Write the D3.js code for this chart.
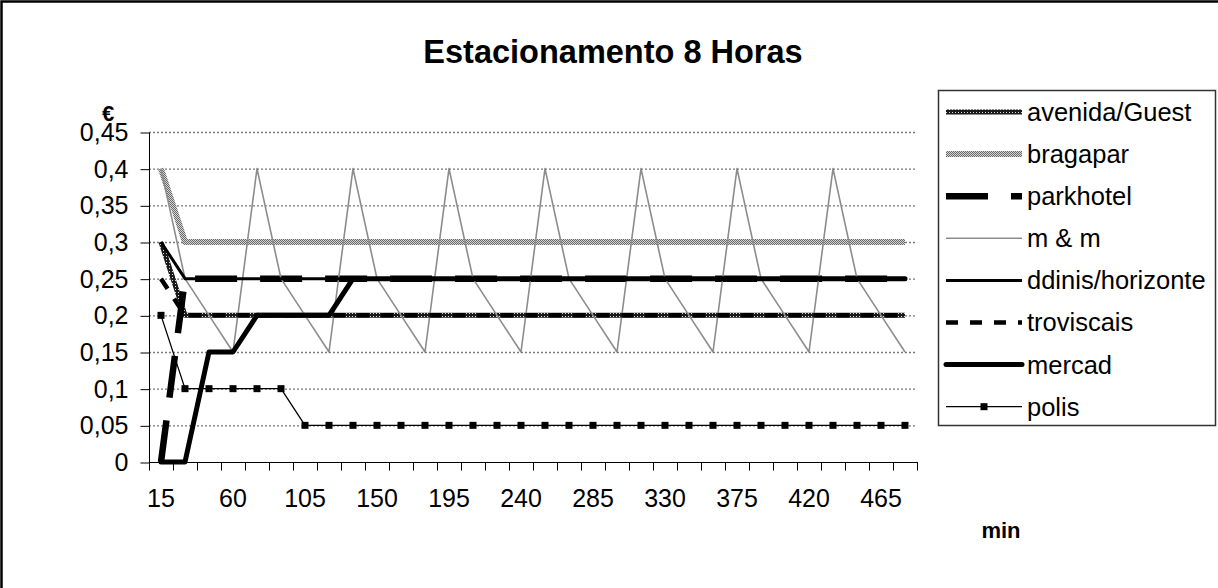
<!DOCTYPE html>
<html>
<head>
<meta charset="utf-8">
<script src="https://cdn.jsdelivr.net/npm/d3@7"></script>
<style>
  html, body { margin: 0; padding: 0; background: #fff; }
  svg { display: block; font-family: "Liberation Sans", Arial, sans-serif; }
</style>
</head>
<body>
<svg id="chart" width="1218" height="588"></svg>
<script>
// Parking price per 15-minute block, 8-hour stay
const minutes = [15, 30, 45, 60, 75, 90, 105, 120, 135, 150, 165, 180, 195, 210, 225, 240,
                 255, 270, 285, 300, 315, 330, 345, 360, 375, 390, 405, 420, 435, 450, 465, 480];
const xTickLabels = [15, 60, 105, 150, 195, 240, 285, 330, 375, 420, 465];
const yTicks = [0, 0.05, 0.1, 0.15, 0.2, 0.25, 0.3, 0.35, 0.4, 0.45];

const avenidaGuest = [0.3, 0.2, 0.2, 0.2, 0.2, 0.2, 0.2, 0.2, 0.2, 0.2, 0.2, 0.2, 0.2, 0.2, 0.2, 0.2,
                      0.2, 0.2, 0.2, 0.2, 0.2, 0.2, 0.2, 0.2, 0.2, 0.2, 0.2, 0.2, 0.2, 0.2, 0.2, 0.2];
const bragapar = [0.4, 0.3, 0.3, 0.3, 0.3, 0.3, 0.3, 0.3, 0.3, 0.3, 0.3, 0.3, 0.3, 0.3, 0.3, 0.3,
                  0.3, 0.3, 0.3, 0.3, 0.3, 0.3, 0.3, 0.3, 0.3, 0.3, 0.3, 0.3, 0.3, 0.3, 0.3, 0.3];
const parkhotel = [0, 0.25, 0.25, 0.25, 0.25, 0.25, 0.25, 0.25, 0.25, 0.25, 0.25, 0.25, 0.25, 0.25, 0.25, 0.25,
                   0.25, 0.25, 0.25, 0.25, 0.25, 0.25, 0.25, 0.25, 0.25, 0.25, 0.25, 0.25, 0.25, 0.25, 0.25, 0.25];
const mAndM = [0.4, 0.25, 0.2, 0.15, 0.4, 0.25, 0.2, 0.15, 0.4, 0.25, 0.2, 0.15, 0.4, 0.25, 0.2, 0.15,
               0.4, 0.25, 0.2, 0.15, 0.4, 0.25, 0.2, 0.15, 0.4, 0.25, 0.2, 0.15, 0.4, 0.25, 0.2, 0.15];
const ddinisHorizonte = [0.3, 0.25, 0.25, 0.25, 0.25, 0.25, 0.25, 0.25, 0.25, 0.25, 0.25, 0.25, 0.25, 0.25, 0.25, 0.25,
                         0.25, 0.25, 0.25, 0.25, 0.25, 0.25, 0.25, 0.25, 0.25, 0.25, 0.25, 0.25, 0.25, 0.25, 0.25, 0.25];
const troviscais = [0.25, 0.2, 0.2, 0.2, 0.2, 0.2, 0.2, 0.2, 0.2, 0.2, 0.2, 0.2, 0.2, 0.2, 0.2, 0.2,
                    0.2, 0.2, 0.2, 0.2, 0.2, 0.2, 0.2, 0.2, 0.2, 0.2, 0.2, 0.2, 0.2, 0.2, 0.2, 0.2];
const mercad = [0, 0, 0.15, 0.15, 0.2, 0.2, 0.2, 0.2, 0.25, 0.25, 0.25, 0.25, 0.25, 0.25, 0.25, 0.25,
                0.25, 0.25, 0.25, 0.25, 0.25, 0.25, 0.25, 0.25, 0.25, 0.25, 0.25, 0.25, 0.25, 0.25, 0.25, 0.25];
const polis = [0.2, 0.1, 0.1, 0.1, 0.1, 0.1, 0.05, 0.05, 0.05, 0.05, 0.05, 0.05, 0.05, 0.05, 0.05, 0.05,
               0.05, 0.05, 0.05, 0.05, 0.05, 0.05, 0.05, 0.05, 0.05, 0.05, 0.05, 0.05, 0.05, 0.05, 0.05, 0.05];

const seriesNames = ["avenida/Guest", "bragapar", "parkhotel", "m & m",
                     "ddinis/horizonte", "troviscais", "mercad", "polis"];

const svg = d3.select("#chart");

// Textured strokes
const defs = svg.append("defs");
const darkTex = defs.append("pattern").attr("id", "texDark")
  .attr("patternUnits", "userSpaceOnUse").attr("width", 3).attr("height", 3);
darkTex.append("rect").attr("width", 3).attr("height", 3).attr("fill", "#1a1a1a");
darkTex.append("rect").attr("x", 1).attr("y", 1).attr("width", 1).attr("height", 1).attr("fill", "#d8d8d8");
const lightTex = defs.append("pattern").attr("id", "texLight")
  .attr("patternUnits", "userSpaceOnUse").attr("width", 2).attr("height", 2);
lightTex.append("rect").attr("width", 2).attr("height", 2).attr("fill", "#d4d4d4");
lightTex.append("rect").attr("width", 1).attr("height", 1).attr("fill", "#6a6a6a");
lightTex.append("rect").attr("x", 1).attr("y", 1).attr("width", 1).attr("height", 1).attr("fill", "#6a6a6a");

const styles = [
  { values: avenidaGuest,    stroke: "url(#texDark)",  width: 5,   dash: null },
  { values: bragapar,        stroke: "url(#texLight)", width: 6,   dash: null },
  { values: parkhotel,       stroke: "#000",           width: 6.5, dash: "42,23" },
  { values: mAndM,           stroke: "#8c8c8c",        width: 1.6, dash: null },
  { values: ddinisHorizonte, stroke: "#000",           width: 3,   dash: null },
  { values: troviscais,      stroke: "#000",           width: 4.5, dash: "12,12" },
  { values: mercad,          stroke: "#000",           width: 5,   dash: null, cap: "round" },
  { values: polis,           stroke: "#000",           width: 1.3, dash: null, marker: true }
];

// Outer chart frame
svg.append("rect").attr("x", 1.5).attr("y", 1.5).attr("width", 1400).attr("height", 800)
  .attr("fill", "none").attr("stroke", "#000").attr("stroke-width", 2.5);

const plotLeft = 149, plotRight = 917, plotTop = 132, plotBottom = 462;

const x = d3.scaleBand().domain(minutes).range([plotLeft, plotRight]).padding(0);
const cx = d => x(d) + x.bandwidth() / 2;
const y = d3.scaleLinear().domain([0, 0.45]).range([plotBottom, plotTop]);

// Gridlines
svg.append("g").selectAll("line").data(yTicks.filter(v => v > 0)).join("line")
  .attr("x1", plotLeft).attr("x2", plotRight)
  .attr("y1", d => y(d) + 0.5).attr("y2", d => y(d) + 0.5)
  .attr("stroke", "#777").attr("stroke-width", 1.3).attr("stroke-dasharray", "2,2");

// Y axis
const fmt = v => String(+v.toFixed(2)).replace(".", ",");
const yAxis = svg.append("g").attr("transform", `translate(${plotLeft + 0.5},0.5)`)
  .call(d3.axisLeft(y).tickValues(yTicks).tickSize(9).tickPadding(12).tickFormat(fmt));
yAxis.select(".domain").attr("stroke", "#000").attr("d", `M-0,${plotTop}V${plotBottom}`);
yAxis.selectAll(".tick line").attr("stroke", "#000");
yAxis.selectAll(".tick text").attr("font-size", 25).attr("fill", "#000")
  .attr("font-family", "'Liberation Sans', Arial, sans-serif");

// X axis with ticks between categories
const xAxis = svg.append("g").attr("transform", `translate(0,${plotBottom + 0.5})`);
xAxis.append("line").attr("x1", plotLeft).attr("x2", plotRight + 1).attr("stroke", "#000");
const edges = minutes.map(m => x(m)).concat([plotRight]);
xAxis.selectAll("line.tk").data(edges).join("line").attr("class", "tk")
  .attr("x1", d => Math.round(d) + 0.5).attr("x2", d => Math.round(d) + 0.5)
  .attr("y1", 0).attr("y2", 8).attr("stroke", "#000");
xAxis.selectAll("text").data(xTickLabels).join("text")
  .attr("x", d => cx(d)).attr("y", 44).attr("text-anchor", "middle")
  .attr("font-size", 25).text(d => d);

// Series lines
const line = d3.line().x((d, i) => cx(minutes[i])).y(d => y(d));
const g = svg.append("g");
styles.forEach(s => {
  g.append("path").attr("d", line(s.values)).attr("fill", "none")
    .attr("stroke", s.stroke).attr("stroke-width", s.width)
    .attr("stroke-dasharray", s.dash)
    .attr("stroke-linejoin", "round")
    .attr("stroke-linecap", s.cap || "butt");
  if (s.marker) {
    g.selectAll(null).data(s.values).join("rect")
      .attr("x", (d, i) => cx(minutes[i]) - 3.5).attr("y", d => y(d) - 3.5)
      .attr("width", 7).attr("height", 7).attr("fill", "#000");
  }
});

// Title and axis titles
svg.append("text").attr("x", 613).attr("y", 63).attr("text-anchor", "middle")
  .attr("font-size", 32.5).attr("font-weight", "bold").text("Estacionamento 8 Horas");
svg.append("text").attr("x", 108).attr("y", 121).attr("text-anchor", "middle")
  .attr("font-size", 22).attr("font-weight", "bold").text("€");
svg.append("text").attr("x", 1001).attr("y", 538).attr("text-anchor", "middle")
  .attr("font-size", 22).attr("font-weight", "bold").text("min");

// Legend
const legend = svg.append("g");
legend.append("rect").attr("x", 938.5).attr("y", 90.5).attr("width", 277).attr("height", 335)
  .attr("fill", "#fff").attr("stroke", "#333").attr("stroke-width", 1.5);
styles.forEach((s, i) => {
  const ly = 112 + i * 42.1;
  legend.append("line").attr("x1", 946).attr("x2", 1022).attr("y1", ly).attr("y2", ly)
    .attr("stroke", s.stroke).attr("stroke-width", s.width)
    .attr("stroke-dasharray", s.dash).attr("stroke-linecap", s.cap || "butt");
  if (s.marker) {
    legend.append("rect").attr("x", 984 - 3.5).attr("y", ly - 3.5)
      .attr("width", 7).attr("height", 7).attr("fill", "#000");
  }
  legend.append("text").attr("x", 1027).attr("y", ly).attr("dy", "0.35em")
    .attr("font-size", 25.5).text(seriesNames[i]);
});
</script>
</body>
</html>
